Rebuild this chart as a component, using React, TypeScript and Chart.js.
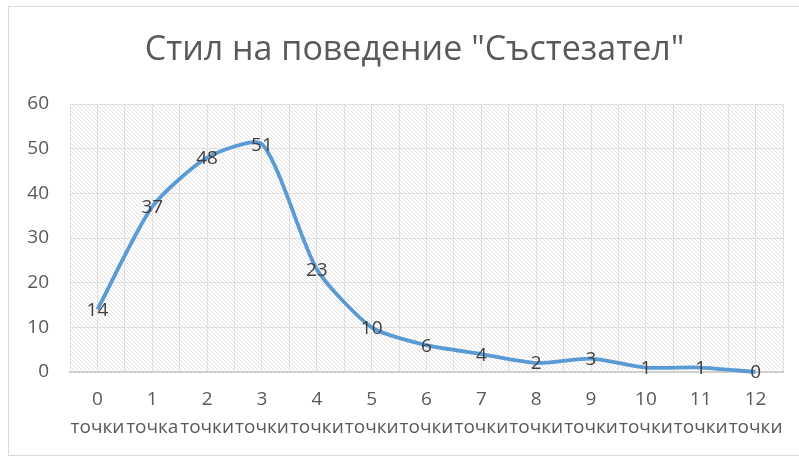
import React, { useEffect, useRef } from "react";
import { Chart, registerables } from "chart.js";

Chart.register(...registerables);

const chartTitle = 'Стил на поведение "Състезател"';
const pointNumbers = ["0", "1", "2", "3", "4", "5", "6", "7", "8", "9", "10", "11", "12"];
const pointWords = ["точки", "точка", "точки", "точки", "точки", "точки", "точки", "точки", "точки", "точки", "точки", "точки", "точки"];
const counts = [14, 37, 48, 51, 23, 10, 6, 4, 2, 3, 1, 1, 0];
const yTicks = [0, 10, 20, 30, 40, 50, 60];

const FONT = "'Open Sans', 'Liberation Sans', sans-serif";

export default function App() {
  const ref = useRef<HTMLCanvasElement | null>(null);

  useEffect(() => {
    const canvas = ref.current;
    if (!canvas) return;

    const tile = document.createElement("canvas");
    tile.width = 4;
    tile.height = 4;
    const tctx = tile.getContext("2d")!;
    tctx.fillStyle = "#ffffff";
    tctx.fillRect(0, 0, 4, 4);
    tctx.fillStyle = "#e2e2e2";
    for (let i = 0; i < 4; i++) tctx.fillRect(i, i, 1, 1);

    const labels = pointNumbers.map((n, i) => [n, pointWords[i]]);

    const bgPlugin = {
      id: "bgPlugin",
      beforeDraw(chart: any) {
        const ctx = chart.ctx;
        const a = chart.chartArea;
        ctx.save();
        ctx.fillStyle = "#ffffff";
        ctx.fillRect(0, 0, chart.width, chart.height);
        ctx.strokeStyle = "#d9d9d9";
        ctx.lineWidth = 1;
        ctx.strokeRect(8.5, 6.5, chart.width, 449);
        const pat = ctx.createPattern(tile, "repeat");
        if (pat) {
          ctx.fillStyle = pat;
          ctx.fillRect(a.left, a.top, a.right - a.left, a.bottom - a.top);
        }
        ctx.fillStyle = "#595959";
        ctx.font = `34px ${FONT}`;
        ctx.textAlign = "center";
        ctx.textBaseline = "middle";
        ctx.fillText(chartTitle, (a.left + a.right) / 2 - 12, 50);
        ctx.restore();
      },
    };

    const labelPlugin = {
      id: "labelPlugin",
      afterDatasetsDraw(chart: any) {
        const ctx = chart.ctx;
        const meta = chart.getDatasetMeta(0);
        ctx.save();
        ctx.fillStyle = "#404040";
        ctx.font = `19px ${FONT}`;
        ctx.textAlign = "center";
        ctx.textBaseline = "middle";
        meta.data.forEach((el: any, i: number) => {
          ctx.fillText(String(counts[i]), el.x, el.y + 1);
        });
        ctx.restore();
      },
    };

    const chart = new Chart(canvas, {
      type: "line",
      data: {
        labels,
        datasets: [
          {
            data: counts,
            borderColor: "#5b9bd5",
            borderWidth: 3.8,
            pointRadius: 0,
            tension: 0.22,
            fill: false,
            clip: 4,
          },
        ],
      },
      options: {
        animation: false,
        responsive: false,
        maintainAspectRatio: false,
        layout: { padding: { left: 9, right: 16, top: 104, bottom: 0 } },
        plugins: {
          legend: { display: false },
          title: { display: false },
          tooltip: { enabled: false },
        },
        scales: {
          x: {
            type: "category",
            position: "bottom",
            offset: true,
            grid: { offset: true, color: "#e0e0e0", drawTicks: false },
            border: { display: true, color: "#d0d0d0", width: 2 },
            ticks: {
              color: "#595959",
              font: { family: FONT, size: 19, lineHeight: 1.45 },
              padding: 14,
              maxRotation: 0,
              minRotation: 0,
              autoSkip: false,
            },
            afterFit(scale: any) {
              scale.height = 86;
            },
          },
          x2: {
            type: "category",
            position: "bottom",
            offset: true,
            grid: { offset: false, color: "#e0e0e0", drawTicks: false },
            border: { display: false },
            ticks: { display: false },
            afterFit(scale: any) {
              scale.height = 0;
            },
          },
          y: {
            min: 0,
            max: 60,
            afterBuildTicks(scale: any) {
              scale.ticks = yTicks.map((v) => ({ value: v }));
            },
            grid: { color: "#e0e0e0", drawTicks: false },
            border: { display: false },
            ticks: {
              color: "#595959",
              font: { family: FONT, size: 19 },
              padding: 21,
            },
            afterFit(scale: any) {
              scale.width = 61;
            },
          },
        },
      },
      plugins: [bgPlugin, labelPlugin],
    });

    return () => chart.destroy();
  }, []);

  return (
    <div style={{ position: "fixed", left: 0, top: 0, width: 799, height: 458 }}>
      <canvas ref={ref} width={799} height={458} style={{ width: 799, height: 458, display: "block" }} />
    </div>
  );
}
